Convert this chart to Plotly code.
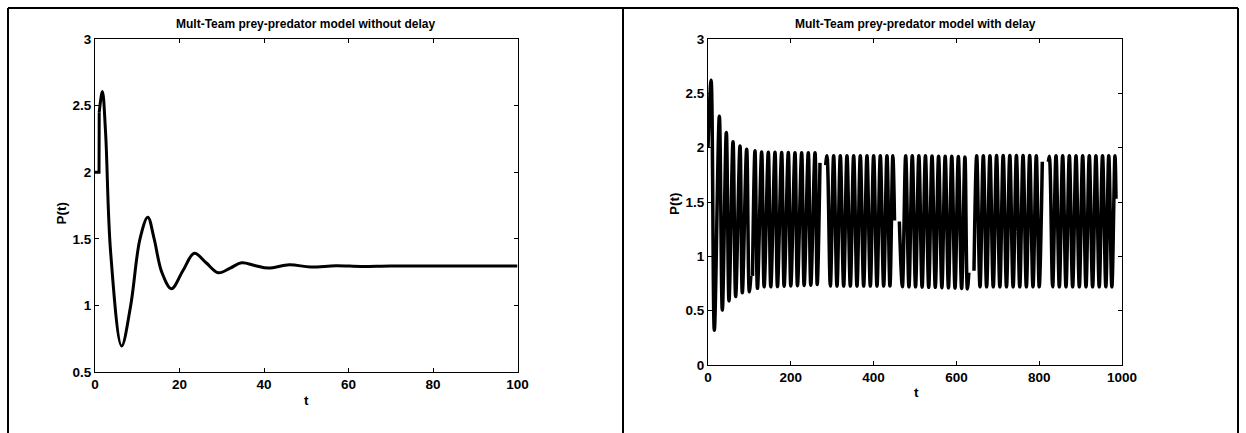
import plotly.graph_objects as go

W, H = 1246, 433

# ---------------- data: left panel (without delay) ----------------
hist_t = [0.0, 0.95, 1.0]
hist_p = [2.0, 2.0, 2.45]

left_t = [1.0, 1.75, 2.5, 3.7, 6.3, 8.45, 10.65, 12.5, 14.0, 15.8,
          18.1, 20.8, 23.5, 26.3, 29.2, 32.0, 34.7, 37.8, 41.0, 46.0, 51.0,
          57.0, 63.0, 70.0, 80.0, 90.0, 100.0]
left_p = [2.45, 2.605, 2.3, 1.4, 0.695, 1.0, 1.5, 1.662, 1.5, 1.25,
          1.125, 1.26, 1.392, 1.32, 1.245, 1.28, 1.32, 1.30, 1.28, 1.305, 1.288,
          1.298, 1.292, 1.296, 1.295, 1.295, 1.295]

# ---------------- data: right panel (with delay) ----------------
right_t = [0.0, 7.5, 15.3, 27.4, 34.6, 44.3, 50.7, 60.4, 66.8, 77.3, 82.9, 93.4, 99.8, 103.5, None,
           107.5, 113.5, 119.5, 129.6, 135.6, 145.7, 151.7, 161.8, 167.8, 177.9, 183.9, 194.0, 200.0,
           210.1, 216.1, 226.2, 232.2, 242.3, 248.3, 258.5, 263.8, 270.5, None,
           284.2, 287.4, 295.5, 303.5, 311.6, 319.6, 327.7, 335.7, 343.8, 351.8, 359.9, 367.9, 376.0,
           384.0, 392.1, 400.1, 408.2, 416.2, 424.3, 432.3, 439.5, 446.5, 450.5, None,
           462.2, 469.5, 477.5, 485.4, 493.4, 501.3, 509.3, 517.2, 525.2, 533.1, 541.1, 549.0, 557.0,
           564.9, 572.9, 580.8, 588.8, 596.7, 604.7, 612.6, 620.6, 626.5, 630.0, None,
           642.5, 649.0, 657.0, 665.0, 673.0, 681.0, 689.0, 697.0, 705.0, 713.0, 721.0, 729.0, 737.0,
           745.0, 753.0, 761.0, 769.0, 777.0, 785.0, 793.0, 800.0, 807.5, None,
           822.0, 824.5, 832.5, 840.6, 848.6, 856.7, 864.7, 872.8, 880.8, 888.9, 896.9, 905.0, 913.0,
           921.0, 929.0, 937.0, 945.0, 953.0, 961.0, 968.0, 975.5, 983.0, 985.5]
right_p = [2.0, 2.62, 0.32, 2.29, 0.505, 2.14, 0.59, 2.055, 0.63, 2.015, 0.665, 1.985, 0.675, 0.82, None,
           0.82, 1.972, 0.706, 1.96, 0.72, 1.957, 0.72, 1.957, 0.722, 1.955, 0.725, 1.955, 0.728,
           1.953, 0.73, 1.953, 0.732, 1.953, 0.735, 1.953, 0.74, 1.86, None,
           1.84, 1.926, 0.727, 1.926, 0.727, 1.926, 0.727, 1.926, 0.727, 1.926, 0.727, 1.926, 0.727,
           1.926, 0.727, 1.926, 0.727, 1.926, 0.727, 1.926, 0.727, 1.926, 1.33, None,
           1.32, 0.72, 1.926, 0.72, 1.926, 0.72, 1.925, 0.718, 1.925, 0.715, 1.924, 0.715, 1.922,
           0.712, 1.92, 0.71, 1.92, 0.708, 1.918, 0.705, 1.915, 0.70, 0.85, None,
           0.868, 1.926, 0.72, 1.926, 0.72, 1.926, 0.72, 1.928, 0.72, 1.928, 0.72, 1.928, 0.72,
           1.928, 0.72, 1.928, 0.72, 1.928, 0.72, 1.926, 0.72, 1.87, None,
           1.87, 1.92, 0.72, 1.926, 0.72, 1.926, 0.72, 1.926, 0.72, 1.926, 0.72, 1.926, 0.72,
           1.926, 0.72, 1.926, 0.72, 1.926, 0.72, 1.926, 0.72, 1.926, 1.53]

left_title = "Mult-Team prey-predator model without delay"
right_title = "Mult-Team prey-predator model with delay"
x_label = "t"
y_label = "P(t)"

left_x_ticks = [0, 20, 40, 60, 80, 100]
left_y_ticks = [0.5, 1, 1.5, 2, 2.5, 3]
right_x_ticks = [0, 200, 400, 600, 800, 1000]
right_y_ticks = [0, 0.5, 1, 1.5, 2, 2.5, 3]

# ---------------- layout geometry (pixels) ----------------
def px(x):
    return x / W

def py(y):
    return 1 - y / H

FONT = "Liberation Sans, Arial, Helvetica, sans-serif"

fig = go.Figure()
fig.add_trace(go.Scatter(x=hist_t, y=hist_p, mode="lines", line=dict(color="black", width=3),
                         xaxis="x", yaxis="y", showlegend=False, hoverinfo="skip"))
fig.add_trace(go.Scatter(x=left_t, y=left_p, mode="lines",
                         line=dict(color="black", width=3, shape="spline"),
                         xaxis="x", yaxis="y", showlegend=False))
fig.add_trace(go.Scatter(x=right_t, y=right_p, mode="lines", connectgaps=False,
                         line=dict(color="black", width=3.5, shape="spline"),
                         xaxis="x2", yaxis="y2", showlegend=False))

axis_common = dict(showline=True, linecolor="black", linewidth=1, mirror="ticks",
                   ticks="inside", ticklen=4, tickwidth=1, tickcolor="black",
                   showgrid=False, zeroline=False, automargin=False,
                   tickfont=dict(family=FONT, size=13.5, color="black", weight="bold"))

fig.update_layout(
    width=W, height=H,
    margin=dict(l=0, r=0, t=0, b=0),
    paper_bgcolor="white", plot_bgcolor="white",
    showlegend=False,
    xaxis=dict(axis_common, domain=[px(95), px(517.5)], range=[0, 100],
               tickvals=left_x_ticks, anchor="y"),
    yaxis=dict(axis_common, domain=[py(372), py(39)], range=[0.5, 3],
               tickvals=left_y_ticks, anchor="x"),
    xaxis2=dict(axis_common, domain=[px(708), px(1122)], range=[0, 1000],
                tickvals=right_x_ticks, anchor="y2"),
    yaxis2=dict(axis_common, domain=[py(365), py(39)], range=[0, 3],
                tickvals=right_y_ticks, anchor="x2"),
)

ann_font_t = dict(family=FONT, size=12, color="black", weight="bold")
ann_font_l = dict(family=FONT, size=13.5, color="black", weight="bold")
annotations = [
    dict(text=left_title, x=px(305), y=py(24), font=ann_font_t),
    dict(text=right_title, x=px(915), y=py(24), font=ann_font_t),
    dict(text=x_label, x=px(306), y=py(400), font=ann_font_l),
    dict(text=x_label, x=px(916), y=py(392), font=ann_font_l),
    dict(text=y_label, x=px(60.5), y=py(213), font=ann_font_l, textangle=-90),
    dict(text=y_label, x=px(674), y=py(204), font=ann_font_l, textangle=-90),
]
for a in annotations:
    a.update(xref="paper", yref="paper", xanchor="center", yanchor="middle",
             showarrow=False)
fig.update_layout(annotations=annotations)

# outer frame (table-like borders)
frame = [
    (8, 8, 1238, 8),
    (8, 8, 8, 433),
    (623, 8, 623, 433),
    (1238, 8, 1238, 433),
]
fig.update_layout(shapes=[
    dict(type="line", xref="paper", yref="paper",
         x0=px(a), y0=py(b), x1=px(c), y1=py(d),
         line=dict(color="black", width=2))
    for a, b, c, d in frame
])

fig.write_html("out.html", config={"displayModeBar": False},
               post_script="document.body.style.margin='0';")
